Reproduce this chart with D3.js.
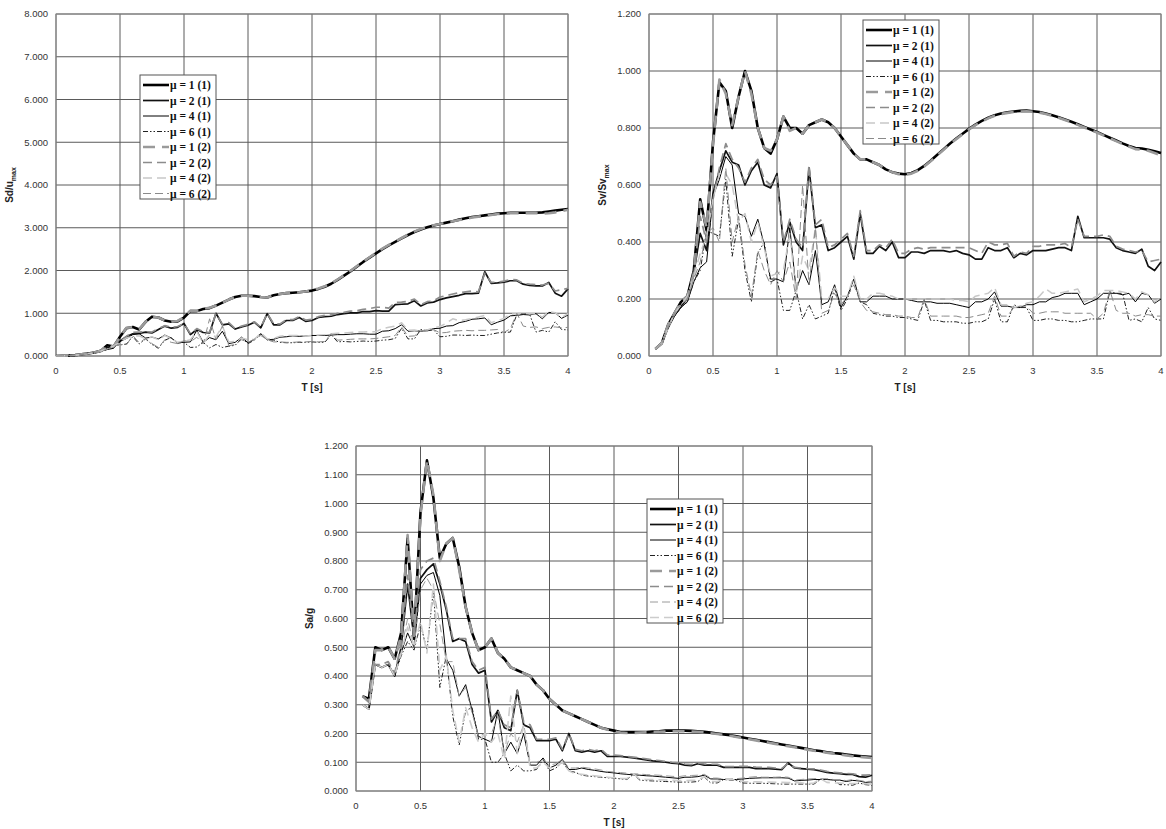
<!DOCTYPE html>
<html>
<head>
<meta charset="utf-8">
<script src="https://cdn.jsdelivr.net/npm/d3@7"></script>
<style>
  html, body { margin: 0; padding: 0; background: #fff; }
  svg { display: block; }
</style>
</head>
<body>
<svg id="chart" width="1166" height="829"></svg>
<script>
// ---------------- DATA ----------------
const periods = [0.05,0.10,0.15,0.20,0.25,0.30,0.35,0.40,0.45,0.50,
  0.55,0.60,0.65,0.70,0.75,0.80,0.85,0.90,0.95,1.00,
  1.05,1.10,1.15,1.20,1.25,1.30,1.35,1.40,1.45,1.50,
  1.55,1.60,1.65,1.70,1.75,1.80,1.85,1.90,1.95,2.00,
  2.05,2.10,2.15,2.20,2.25,2.30,2.35,2.40,2.45,2.50,
  2.55,2.60,2.65,2.70,2.75,2.80,2.85,2.90,2.95,3.00,
  3.05,3.10,3.15,3.20,3.25,3.30,3.35,3.40,3.45,3.50,
  3.55,3.60,3.65,3.70,3.75,3.80,3.85,3.90,3.95,4.00];

const seriesLabels = ["μ = 1 (1)","μ = 2 (1)","μ = 4 (1)","μ = 6 (1)","μ = 1 (2)","μ = 2 (2)","μ = 4 (2)","μ = 6 (2)"];
const xTicks = [0,0.5,1,1.5,2,2.5,3,3.5,4];
const xTickLabels = ["0","0.5","1","1.5","2","2.5","3","3.5","4"];
const sdTicks = [0,1,2,3,4,5,6,7,8];
const svTicks = [0,0.2,0.4,0.6,0.8,1.0,1.2];
const saTicks = [0,0.1,0.2,0.3,0.4,0.5,0.6,0.7,0.8,0.9,1.0,1.1,1.2];

// Sd/u_max (value at T = 0 is 0 for every series)
const sdStart = 0;
const sdMu1a = [0.005,0.01,0.02,0.04,0.06,0.08,0.12,0.25,0.22,0.45,
 0.65,0.68,0.62,0.80,0.92,0.90,0.83,0.80,0.81,0.90,
 1.05,1.05,1.10,1.12,1.18,1.25,1.32,1.38,1.41,1.41,
 1.40,1.38,1.37,1.42,1.45,1.47,1.48,1.49,1.51,1.53,
 1.57,1.62,1.69,1.78,1.88,1.98,2.09,2.20,2.30,2.40,
 2.50,2.59,2.67,2.75,2.83,2.90,2.96,3.01,3.05,3.09,
 3.12,3.15,3.19,3.22,3.25,3.27,3.29,3.31,3.33,3.34,
 3.35,3.35,3.35,3.35,3.35,3.36,3.38,3.40,3.42,3.44];
const sdMu2a = [0.005,0.01,0.02,0.04,0.06,0.08,0.12,0.20,0.20,0.35,
 0.45,0.52,0.53,0.56,0.54,0.62,0.70,0.65,0.67,0.76,
 0.50,0.62,0.55,0.54,1.00,0.73,0.75,0.63,0.68,0.72,
 0.79,0.66,0.99,0.73,0.73,0.83,0.83,0.90,0.81,0.83,
 0.90,0.92,0.93,0.97,0.99,1.01,1.01,1.04,1.04,1.06,
 1.05,1.05,1.20,1.21,1.22,1.29,1.17,1.24,1.26,1.32,
 1.36,1.39,1.42,1.46,1.46,1.47,1.97,1.70,1.71,1.73,
 1.76,1.76,1.68,1.65,1.64,1.64,1.72,1.47,1.40,1.57];
const sdMu4a = [0.005,0.01,0.02,0.035,0.05,0.07,0.11,0.15,0.18,0.34,
 0.41,0.50,0.52,0.42,0.44,0.40,0.49,0.42,0.31,0.32,
 0.33,0.60,0.32,0.43,0.38,0.58,0.29,0.32,0.44,0.31,
 0.39,0.52,0.38,0.39,0.44,0.45,0.47,0.46,0.47,0.48,
 0.48,0.48,0.49,0.50,0.50,0.51,0.52,0.52,0.51,0.51,
 0.58,0.59,0.64,0.73,0.58,0.59,0.58,0.59,0.64,0.65,
 0.70,0.71,0.78,0.81,0.86,0.87,0.89,0.73,0.79,0.84,
 0.94,0.95,0.97,0.96,0.99,0.87,1.02,1.01,0.88,0.96];
const sdMu6a = [0.005,0.01,0.02,0.035,0.05,0.07,0.11,0.15,0.24,0.26,
 0.28,0.45,0.28,0.40,0.27,0.18,0.37,0.43,0.30,0.32,
 0.20,0.21,0.32,0.19,0.27,0.20,0.23,0.25,0.42,0.29,
 0.37,0.52,0.38,0.37,0.32,0.31,0.31,0.32,0.32,0.33,
 0.32,0.32,0.50,0.33,0.34,0.33,0.34,0.35,0.34,0.35,
 0.37,0.38,0.41,0.65,0.40,0.40,0.62,0.59,0.61,0.45,
 0.46,0.49,0.49,0.48,0.49,0.48,0.48,0.51,0.54,0.55,
 0.56,0.97,0.97,0.98,0.56,0.60,0.56,0.80,0.62,0.61];
const sdMu1b = [0.005,0.01,0.02,0.04,0.06,0.08,0.12,0.24,0.23,0.44,
 0.66,0.67,0.63,0.80,0.91,0.90,0.83,0.80,0.82,0.91,
 1.06,1.05,1.10,1.13,1.18,1.25,1.32,1.38,1.41,1.41,
 1.40,1.38,1.37,1.42,1.45,1.47,1.48,1.49,1.51,1.54,
 1.58,1.63,1.70,1.79,1.89,1.99,2.10,2.21,2.31,2.41,
 2.51,2.60,2.68,2.76,2.84,2.91,2.97,3.02,3.06,3.09,
 3.12,3.15,3.18,3.21,3.24,3.26,3.28,3.30,3.32,3.33,
 3.34,3.34,3.34,3.34,3.34,3.33,3.34,3.36,3.39,3.42];
const sdMu2b = [0.005,0.01,0.02,0.04,0.06,0.08,0.12,0.22,0.21,0.34,
 0.46,0.55,0.56,0.57,0.56,0.64,0.71,0.67,0.69,0.76,
 0.52,0.64,0.57,0.55,1.00,0.74,0.78,0.64,0.70,0.74,
 0.80,0.67,1.00,0.75,0.75,0.85,0.85,0.92,0.84,0.86,
 0.92,0.95,0.96,1.00,1.02,1.05,1.06,1.09,1.11,1.14,
 1.14,1.12,1.25,1.26,1.28,1.33,1.20,1.27,1.29,1.38,
 1.41,1.45,1.48,1.50,1.52,1.50,1.94,1.72,1.73,1.75,
 1.79,1.78,1.70,1.68,1.67,1.66,1.70,1.52,1.55,1.58];
const sdMu4b = [0.005,0.01,0.02,0.035,0.055,0.075,0.12,0.17,0.23,0.33,
 0.42,0.46,0.47,0.40,0.45,0.38,0.48,0.41,0.32,0.35,
 0.38,0.57,0.30,0.50,0.45,0.70,0.33,0.34,0.42,0.38,
 0.39,0.54,0.40,0.41,0.46,0.48,0.48,0.48,0.47,0.48,
 0.49,0.50,0.52,0.53,0.54,0.55,0.56,0.56,0.57,0.57,
 0.64,0.67,0.70,0.78,0.60,0.61,0.58,0.61,0.66,0.69,
 0.77,0.87,0.83,0.85,0.88,0.91,0.95,0.78,0.83,0.88,
 0.98,0.99,1.00,0.99,0.99,0.91,1.04,1.01,0.90,0.99];
const sdMu6b = [0.005,0.01,0.02,0.035,0.055,0.075,0.11,0.16,0.23,0.27,
 0.26,0.48,0.31,0.41,0.29,0.20,0.38,0.32,0.29,0.36,
 0.33,0.44,0.28,0.87,0.38,0.70,0.24,0.27,0.38,0.32,
 0.39,0.48,0.38,0.33,0.33,0.32,0.32,0.33,0.33,0.34,
 0.33,0.34,0.52,0.37,0.38,0.39,0.40,0.40,0.40,0.41,
 0.43,0.45,0.48,0.68,0.46,0.47,0.58,0.61,0.62,0.54,
 0.55,0.58,0.59,0.60,0.59,0.60,0.60,0.61,0.62,0.55,
 0.64,1.00,0.70,0.67,0.68,0.64,0.67,0.68,0.66,0.67];

// Sv/Sv_max
const svMu1a = [0.025,0.045,0.11,0.15,0.19,0.21,0.30,0.55,0.44,0.75,
 0.96,0.93,0.80,0.91,1.00,0.93,0.80,0.73,0.71,0.76,
 0.84,0.80,0.80,0.78,0.81,0.82,0.83,0.82,0.80,0.77,
 0.74,0.71,0.69,0.69,0.68,0.67,0.655,0.645,0.64,0.638,
 0.642,0.652,0.667,0.685,0.705,0.725,0.745,0.763,0.78,0.797,
 0.812,0.825,0.836,0.845,0.851,0.855,0.858,0.86,0.861,0.859,
 0.856,0.851,0.845,0.838,0.83,0.822,0.813,0.804,0.795,0.786,
 0.776,0.766,0.756,0.746,0.737,0.73,0.728,0.724,0.718,0.712];
const svMu2a = [0.025,0.045,0.10,0.145,0.175,0.20,0.29,0.43,0.37,0.57,
 0.65,0.72,0.68,0.67,0.60,0.65,0.68,0.60,0.59,0.64,
 0.39,0.47,0.40,0.37,0.66,0.45,0.46,0.37,0.38,0.40,
 0.42,0.34,0.50,0.36,0.36,0.385,0.37,0.40,0.345,0.345,
 0.365,0.365,0.36,0.37,0.37,0.37,0.365,0.37,0.36,0.355,
 0.34,0.34,0.38,0.37,0.37,0.38,0.345,0.36,0.355,0.37,
 0.37,0.37,0.375,0.38,0.38,0.37,0.49,0.415,0.415,0.415,
 0.415,0.41,0.38,0.37,0.365,0.36,0.375,0.315,0.30,0.33];
const svMu4a = [0.025,0.045,0.10,0.14,0.17,0.19,0.26,0.31,0.33,0.56,
 0.62,0.70,0.67,0.50,0.49,0.42,0.48,0.39,0.27,0.27,
 0.26,0.45,0.23,0.30,0.25,0.37,0.18,0.19,0.25,0.17,
 0.21,0.27,0.19,0.19,0.21,0.21,0.21,0.20,0.20,0.20,
 0.195,0.19,0.19,0.19,0.185,0.185,0.185,0.18,0.175,0.17,
 0.19,0.19,0.20,0.225,0.175,0.175,0.17,0.17,0.18,0.18,
 0.19,0.19,0.205,0.21,0.22,0.22,0.22,0.18,0.19,0.20,
 0.22,0.22,0.22,0.215,0.22,0.19,0.22,0.215,0.185,0.20];
const svMu6a = [0.025,0.045,0.10,0.14,0.17,0.19,0.26,0.30,0.44,0.43,
 0.42,0.62,0.35,0.48,0.30,0.19,0.36,0.40,0.26,0.27,
 0.16,0.16,0.23,0.13,0.18,0.13,0.14,0.15,0.24,0.16,
 0.20,0.27,0.19,0.18,0.15,0.145,0.14,0.14,0.135,0.135,
 0.13,0.125,0.195,0.125,0.125,0.12,0.12,0.12,0.115,0.115,
 0.12,0.12,0.13,0.20,0.12,0.12,0.18,0.17,0.17,0.125,
 0.125,0.13,0.13,0.125,0.125,0.12,0.12,0.125,0.13,0.13,
 0.13,0.225,0.22,0.22,0.125,0.13,0.12,0.17,0.13,0.125];
const svMu1b = [0.025,0.045,0.11,0.15,0.19,0.21,0.29,0.54,0.45,0.74,
 0.97,0.92,0.81,0.91,1.00,0.92,0.80,0.73,0.72,0.76,
 0.84,0.79,0.80,0.78,0.81,0.82,0.83,0.82,0.80,0.77,
 0.74,0.71,0.69,0.69,0.68,0.67,0.655,0.645,0.638,0.636,
 0.640,0.650,0.665,0.683,0.703,0.723,0.743,0.761,0.778,0.795,
 0.810,0.823,0.834,0.843,0.849,0.853,0.856,0.858,0.859,0.857,
 0.854,0.849,0.843,0.836,0.828,0.82,0.811,0.802,0.793,0.784,
 0.774,0.764,0.754,0.744,0.735,0.726,0.724,0.72,0.712,0.704];
const svMu2b = [0.025,0.045,0.10,0.15,0.18,0.20,0.28,0.49,0.40,0.55,
 0.66,0.745,0.69,0.66,0.61,0.66,0.69,0.62,0.60,0.63,
 0.40,0.48,0.41,0.38,0.67,0.46,0.48,0.38,0.39,0.41,
 0.43,0.35,0.51,0.37,0.37,0.39,0.38,0.41,0.36,0.36,
 0.375,0.38,0.375,0.38,0.38,0.38,0.38,0.38,0.38,0.38,
 0.37,0.36,0.40,0.39,0.39,0.395,0.35,0.365,0.36,0.385,
 0.385,0.39,0.39,0.39,0.395,0.38,0.48,0.42,0.42,0.42,
 0.425,0.42,0.385,0.375,0.37,0.365,0.37,0.33,0.335,0.34];
const svMu4b = [0.025,0.045,0.10,0.15,0.18,0.21,0.28,0.36,0.42,0.55,
 0.64,0.64,0.60,0.47,0.50,0.40,0.47,0.38,0.28,0.29,
 0.30,0.43,0.22,0.35,0.30,0.45,0.20,0.20,0.24,0.21,
 0.21,0.28,0.20,0.20,0.22,0.22,0.215,0.21,0.20,0.20,
 0.20,0.20,0.20,0.20,0.20,0.20,0.20,0.195,0.195,0.19,
 0.21,0.215,0.22,0.24,0.18,0.18,0.17,0.175,0.185,0.19,
 0.21,0.235,0.22,0.22,0.225,0.23,0.235,0.19,0.20,0.21,
 0.23,0.23,0.23,0.225,0.22,0.20,0.225,0.215,0.19,0.205];
const svMu6b = [0.025,0.045,0.10,0.15,0.18,0.20,0.27,0.33,0.43,0.45,
 0.40,0.66,0.40,0.49,0.32,0.21,0.37,0.30,0.25,0.30,
 0.26,0.33,0.20,0.60,0.25,0.45,0.15,0.16,0.22,0.18,
 0.21,0.25,0.19,0.16,0.155,0.15,0.145,0.145,0.14,0.14,
 0.135,0.135,0.20,0.14,0.14,0.14,0.14,0.14,0.135,0.135,
 0.14,0.145,0.15,0.21,0.14,0.14,0.17,0.175,0.175,0.15,
 0.15,0.155,0.155,0.155,0.15,0.15,0.15,0.15,0.15,0.13,
 0.15,0.23,0.16,0.15,0.15,0.14,0.145,0.145,0.14,0.14];

// Sa/g
const saMu1a = [0.33,0.32,0.50,0.49,0.50,0.46,0.55,0.88,0.53,0.97,
 1.15,1.02,0.81,0.86,0.88,0.78,0.64,0.55,0.49,0.50,
 0.53,0.48,0.46,0.43,0.42,0.41,0.40,0.37,0.35,0.32,
 0.30,0.28,0.27,0.26,0.25,0.24,0.23,0.22,0.215,0.21,
 0.205,0.205,0.205,0.205,0.205,0.207,0.208,0.21,0.21,0.21,
 0.21,0.209,0.208,0.206,0.203,0.20,0.197,0.194,0.19,0.186,
 0.182,0.178,0.174,0.17,0.166,0.162,0.158,0.154,0.15,0.146,
 0.142,0.139,0.135,0.132,0.13,0.127,0.124,0.122,0.12,0.118];
const saMu2a = [0.30,0.285,0.44,0.43,0.44,0.40,0.50,0.72,0.53,0.74,
 0.77,0.79,0.72,0.63,0.52,0.53,0.52,0.44,0.41,0.42,
 0.24,0.28,0.22,0.21,0.35,0.23,0.22,0.175,0.175,0.175,
 0.18,0.14,0.20,0.14,0.135,0.14,0.135,0.14,0.12,0.12,
 0.12,0.118,0.115,0.112,0.108,0.105,0.103,0.10,0.097,0.095,
 0.09,0.088,0.095,0.09,0.09,0.09,0.082,0.082,0.082,0.082,
 0.082,0.078,0.078,0.078,0.076,0.074,0.098,0.08,0.078,0.076,
 0.074,0.07,0.065,0.062,0.06,0.058,0.058,0.05,0.048,0.055];
const saMu4a = [0.30,0.285,0.44,0.43,0.44,0.40,0.48,0.55,0.50,0.72,
 0.75,0.76,0.68,0.46,0.42,0.33,0.37,0.28,0.19,0.18,
 0.17,0.28,0.13,0.17,0.13,0.20,0.09,0.09,0.115,0.08,
 0.09,0.11,0.075,0.075,0.08,0.075,0.072,0.068,0.065,0.063,
 0.06,0.058,0.056,0.055,0.053,0.052,0.05,0.048,0.046,0.044,
 0.048,0.048,0.05,0.055,0.042,0.042,0.04,0.04,0.04,0.042,
 0.044,0.045,0.046,0.046,0.046,0.046,0.045,0.035,0.037,0.038,
 0.04,0.04,0.04,0.038,0.038,0.033,0.037,0.035,0.03,0.032];
const saMu6a = [0.30,0.285,0.44,0.43,0.44,0.40,0.47,0.52,0.49,0.58,
 0.49,0.70,0.36,0.47,0.26,0.16,0.28,0.29,0.18,0.18,
 0.10,0.10,0.13,0.07,0.09,0.07,0.07,0.075,0.11,0.07,
 0.08,0.10,0.07,0.065,0.055,0.052,0.05,0.048,0.046,0.045,
 0.042,0.04,0.058,0.038,0.036,0.035,0.034,0.033,0.032,0.031,
 0.031,0.031,0.033,0.048,0.028,0.028,0.04,0.038,0.037,0.028,
 0.027,0.027,0.027,0.026,0.025,0.024,0.024,0.024,0.024,0.024,
 0.024,0.04,0.04,0.04,0.022,0.022,0.02,0.028,0.022,0.02];
const saMu1b = [0.33,0.31,0.49,0.49,0.50,0.46,0.54,0.89,0.54,0.96,
 1.15,1.03,0.80,0.86,0.88,0.77,0.64,0.55,0.49,0.50,
 0.53,0.48,0.46,0.43,0.42,0.41,0.40,0.37,0.35,0.32,
 0.30,0.28,0.27,0.26,0.25,0.24,0.23,0.22,0.213,0.207,
 0.203,0.202,0.202,0.203,0.204,0.205,0.206,0.207,0.208,0.208,
 0.208,0.207,0.206,0.204,0.201,0.198,0.195,0.192,0.188,0.184,
 0.18,0.176,0.172,0.168,0.164,0.16,0.156,0.152,0.148,0.144,
 0.14,0.137,0.133,0.13,0.127,0.124,0.121,0.119,0.117,0.115];
const saMu2b = [0.33,0.31,0.44,0.44,0.45,0.41,0.51,0.75,0.54,0.77,
 0.80,0.81,0.73,0.64,0.53,0.53,0.53,0.45,0.42,0.43,
 0.25,0.28,0.23,0.22,0.35,0.24,0.23,0.18,0.18,0.18,
 0.185,0.145,0.20,0.145,0.14,0.145,0.14,0.145,0.125,0.125,
 0.123,0.12,0.118,0.115,0.112,0.108,0.106,0.103,0.10,0.098,
 0.094,0.092,0.098,0.094,0.093,0.093,0.085,0.085,0.085,0.086,
 0.086,0.083,0.082,0.082,0.080,0.078,0.096,0.082,0.08,0.078,
 0.077,0.073,0.068,0.065,0.063,0.061,0.06,0.055,0.055,0.057];
const saMu4b = [0.30,0.285,0.44,0.43,0.44,0.40,0.49,0.60,0.50,0.70,
 0.74,0.70,0.58,0.45,0.45,0.33,0.36,0.27,0.19,0.20,
 0.20,0.26,0.13,0.20,0.17,0.23,0.10,0.10,0.11,0.09,
 0.095,0.11,0.08,0.08,0.083,0.08,0.077,0.073,0.068,0.066,
 0.064,0.062,0.06,0.059,0.057,0.056,0.055,0.053,0.051,0.05,
 0.053,0.054,0.055,0.058,0.045,0.045,0.042,0.042,0.043,0.045,
 0.048,0.05,0.048,0.048,0.048,0.049,0.048,0.038,0.04,0.042,
 0.043,0.043,0.043,0.04,0.04,0.036,0.04,0.037,0.033,0.034];
const saMu6b = [0.30,0.285,0.44,0.43,0.44,0.40,0.48,0.57,0.50,0.59,
 0.48,0.72,0.42,0.47,0.28,0.17,0.29,0.22,0.17,0.20,
 0.17,0.20,0.11,0.33,0.13,0.23,0.08,0.08,0.10,0.08,
 0.085,0.10,0.07,0.06,0.058,0.055,0.053,0.05,0.048,0.046,
 0.044,0.043,0.06,0.041,0.04,0.04,0.039,0.038,0.037,0.036,
 0.036,0.037,0.038,0.05,0.033,0.033,0.04,0.04,0.039,0.033,
 0.032,0.032,0.031,0.031,0.03,0.03,0.029,0.029,0.029,0.025,
 0.028,0.043,0.03,0.028,0.028,0.026,0.026,0.026,0.025,0.024];

// ---------------- STYLES ----------------
const lineStyles = [
  { stroke: "#000000", width: 2.6, dash: null },
  { stroke: "#111111", width: 1.7, dash: null },
  { stroke: "#000000", width: 1.0, dash: null },
  { stroke: "#222222", width: 1.0, dash: "5,2,1.5,2,1.5,2" },
  { stroke: "#9a9a9a", width: 2.6, dash: "12,7" },
  { stroke: "#8c8c8c", width: 1.7, dash: "9,5" },
  { stroke: "#c8c8c8", width: 1.5, dash: "9,5" },
  { stroke: "#8a8a8a", width: 1.0, dash: "8,4" }
];
const lineStylesSa = lineStyles.map((s, i) =>
  i === 6 ? { stroke: "#9a9a9a", width: 1.0, dash: "8,4" } :
  i === 7 ? { stroke: "#cccccc", width: 1.6, dash: "9,5" } : s);

const svg = d3.select("#chart");

function drawPanel(cfg) {
  const { left, right, top, bottom, yMax, yTicks, xs, seriesList, styles, yTitle, yTitleSub, legend, id } = cfg;
  const x = d3.scaleLinear().domain([0, 4]).range([left, right]);
  const y = d3.scaleLinear().domain([0, yMax]).range([bottom, top]);
  const g = svg.append("g");

  // grid
  g.append("g").selectAll("line").data(yTicks).join("line")
    .attr("x1", left).attr("x2", right)
    .attr("y1", d => y(d)).attr("y2", d => y(d))
    .attr("stroke", "#5a5a5a").attr("stroke-width", 1);
  g.append("g").selectAll("line").data(xTicks).join("line")
    .attr("x1", d => x(d)).attr("x2", d => x(d))
    .attr("y1", top).attr("y2", bottom)
    .attr("stroke", "#5a5a5a").attr("stroke-width", 1);
  g.append("rect").attr("x", left).attr("y", top)
    .attr("width", right - left).attr("height", bottom - top)
    .attr("fill", "none").attr("stroke", "#8a8a8a").attr("stroke-width", 1);

  // tick labels
  g.append("g").selectAll("text").data(yTicks).join("text")
    .attr("x", left - 8).attr("y", d => y(d)).attr("dy", "0.35em")
    .attr("text-anchor", "end")
    .style("font-family", "'Liberation Sans', Arial, sans-serif")
    .style("font-size", "9.5px").attr("fill", "#333")
    .text(d => d3.format(".3f")(d));
  g.append("g").selectAll("text").data(xTicks).join("text")
    .attr("x", d => x(d)).attr("y", bottom + 15).attr("dy", "0.35em")
    .attr("text-anchor", "middle")
    .style("font-family", "'Liberation Sans', Arial, sans-serif")
    .style("font-size", "9.5px").attr("fill", "#333")
    .text((d, i) => xTickLabels[i]);

  // axis titles
  g.append("text").attr("x", (left + right) / 2).attr("y", bottom + 31).attr("dy", "0.35em")
    .attr("text-anchor", "middle")
    .style("font-family", "'Liberation Sans', Arial, sans-serif")
    .style("font-size", "10px").style("font-weight", "bold").attr("fill", "#222")
    .text("T [s]");
  const yt = g.append("text")
    .attr("transform", `translate(${left - 43},${(top + bottom) / 2}) rotate(-90)`)
    .attr("text-anchor", "middle")
    .style("font-family", "'Liberation Sans', Arial, sans-serif")
    .style("font-size", "10px").style("font-weight", "bold").attr("fill", "#222");
  yt.append("tspan").text(yTitle);
  if (yTitleSub) yt.append("tspan").attr("dy", "3").style("font-size", "7px").text(yTitleSub);

  // clip
  svg.append("clipPath").attr("id", "clip" + id).append("rect")
    .attr("x", left).attr("y", top - 2).attr("width", right - left + 2).attr("height", bottom - top + 3);

  const line = d3.line().x(d => x(d[0])).y(d => y(d[1]));
  const lg = g.append("g").attr("clip-path", `url(#clip${id})`);
  seriesList.forEach((vals, i) => {
    const pts = vals.map((v, k) => [xs[k], v]);
    const s = styles[i];
    lg.append("path").datum(pts).attr("d", line)
      .attr("fill", "none").attr("stroke", s.stroke).attr("stroke-width", s.width)
      .attr("stroke-dasharray", s.dash).attr("stroke-linejoin", "round");
  });

  // legend
  const L = g.append("g").attr("transform", `translate(${legend[0]},${legend[1]})`);
  L.append("rect").attr("x", 0).attr("y", 0).attr("width", 76).attr("height", 124)
    .attr("fill", "#fff").attr("stroke", "#555").attr("stroke-width", 1);
  seriesLabels.forEach((lab, i) => {
    const yy = 10 + i * 15.5;
    const s = styles[i];
    L.append("line").attr("x1", 3).attr("x2", 29).attr("y1", yy).attr("y2", yy)
      .attr("stroke", s.stroke).attr("stroke-width", s.width).attr("stroke-dasharray", s.dash);
    L.append("text").attr("x", 30).attr("y", yy).attr("dy", "0.35em")
      .style("font-family", "'Liberation Serif', 'Times New Roman', serif")
      .style("font-size", "11.5px").style("font-weight", "bold").attr("fill", "#111")
      .text(lab);
  });
}

const periodsSd = [0].concat(periods);
drawPanel({
  id: 1, left: 56, right: 568, top: 14, bottom: 356, yMax: 8, yTicks: sdTicks,
  xs: periodsSd,
  seriesList: [sdMu1a, sdMu2a, sdMu4a, sdMu6a, sdMu1b, sdMu2b, sdMu4b, sdMu6b].map(a => [sdStart].concat(a)),
  styles: lineStyles, yTitle: "Sd/u", yTitleSub: "max", legend: [140, 75]
});
drawPanel({
  id: 2, left: 649, right: 1161, top: 14, bottom: 356, yMax: 1.2, yTicks: svTicks,
  xs: periods,
  seriesList: [svMu1a, svMu2a, svMu4a, svMu6a, svMu1b, svMu2b, svMu4b, svMu6b],
  styles: lineStyles, yTitle: "Sv/Sv", yTitleSub: "max", legend: [863, 20]
});
drawPanel({
  id: 3, left: 356, right: 872, top: 446, bottom: 791, yMax: 1.2, yTicks: saTicks,
  xs: periods,
  seriesList: [saMu1a, saMu2a, saMu4a, saMu6a, saMu1b, saMu2b, saMu4b, saMu6b],
  styles: lineStylesSa, yTitle: "Sa/g", yTitleSub: null, legend: [647, 499]
});
</script>
</body>
</html>
